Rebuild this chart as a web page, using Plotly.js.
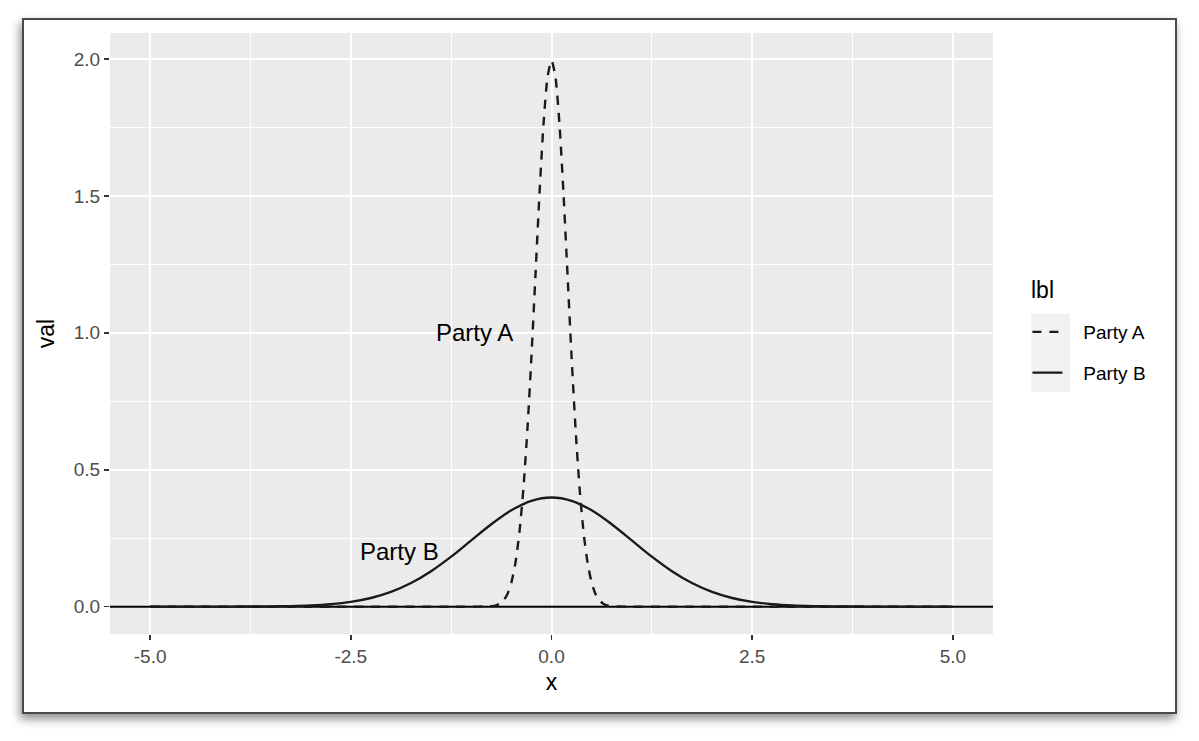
<!DOCTYPE html>
<html>
<head>
<meta charset="utf-8">
<script src="https://cdn.plot.ly/plotly-3.0.1.min.js"></script>
<style>
  body { margin: 0; background: #fff; width: 1199px; height: 741px; overflow: hidden; }
  #card {
    position: absolute; left: 22px; top: 18px; width: 1151px; height: 692px;
    border: 2px solid #4a4a4a; background: #fff;
    box-shadow: -2px 5px 9px rgba(0,0,0,0.45);
  }
  #chart { position: absolute; left: 0; top: 0; width: 1199px; height: 741px; }
</style>
</head>
<body>
<div id="card"></div>
<div id="chart"></div>
<script>
// Party B: wide curve
const partyB_x = [-5, -4.75, -4.5, -4.25, -4, -3.75, -3.5, -3.25, -3, -2.75, -2.5, -2.25, -2, -1.75, -1.5, -1.25, -1, -0.75, -0.5, -0.25,
  0, 0.25, 0.5, 0.75, 1, 1.25, 1.5, 1.75, 2, 2.25, 2.5, 2.75, 3, 3.25, 3.5, 3.75, 4, 4.25, 4.5, 4.75, 5];
const partyB_val = [0, 0, 0, 0, 0.0001, 0.0004, 0.0009, 0.002, 0.0044, 0.0091, 0.0175, 0.0317, 0.054, 0.0863, 0.1295, 0.1826, 0.242, 0.3011, 0.3521, 0.3867,
  0.3989, 0.3867, 0.3521, 0.3011, 0.242, 0.1826, 0.1295, 0.0863, 0.054, 0.0317, 0.0175, 0.0091, 0.0044, 0.002, 0.0009, 0.0004, 0.0001, 0, 0, 0, 0];

// Party A: narrow spike
const partyA_x = [-5, -1, -0.8, -0.75, -0.7, -0.65, -0.6, -0.55, -0.5, -0.45, -0.4, -0.35, -0.3, -0.25, -0.2, -0.15, -0.1, -0.05,
  0, 0.05, 0.1, 0.15, 0.2, 0.25, 0.3, 0.35, 0.4, 0.45, 0.5, 0.55, 0.6, 0.65, 0.7, 0.75, 0.8, 1, 5];
const partyA_val = [0, 0, 0.001, 0.002, 0.004, 0.01, 0.022, 0.045, 0.088, 0.159, 0.27, 0.431, 0.648, 0.913, 1.21, 1.506, 1.76, 1.933,
  1.995, 1.933, 1.76, 1.506, 1.21, 0.913, 0.648, 0.431, 0.27, 0.159, 0.088, 0.045, 0.022, 0.01, 0.004, 0.002, 0.001, 0, 0];

// horizontal reference line at 0, across the whole panel
const baseline = 0;
const xRange = [-5.5, 5.5];
const yRange = [-0.0998, 2.095];
const xTicks = [-5, -2.5, 0, 2.5, 5];
const xTickText = ['-5.0', '-2.5', '0.0', '2.5', '5.0'];
const yTicks = [0, 0.5, 1, 1.5, 2];
const yTickText = ['0.0', '0.5', '1.0', '1.5', '2.0'];

const FONT = '"Liberation Sans", Arial, sans-serif';
const pad = '\u00a0\u00a0\u00a0'; // push legend labels away from the keys

const traces = [
  {
    x: xRange, y: [baseline, baseline], showlegend: false, hoverinfo: 'skip',
    type: 'scatter', mode: 'lines', cliponaxis: true,
    line: {color: '#000', width: 2}
  },
  {
    x: partyA_x, y: partyA_val, name: pad + 'Party A', legendgroup: 'a',
    type: 'scatter', mode: 'lines',
    line: {color: '#1a1a1a', width: 2.4, dash: '9px,8px', shape: 'spline', smoothing: 0.6}
  },
  {
    x: partyB_x, y: partyB_val, name: pad + 'Party B', legendgroup: 'b',
    type: 'scatter', mode: 'lines',
    line: {color: '#1a1a1a', width: 2.4, shape: 'spline', smoothing: 1}
  }
];

const axisCommon = {
  showline: false, zeroline: false,
  gridcolor: '#ffffff', gridwidth: 2,
  ticks: 'outside', ticklen: 5, tickwidth: 1.6, tickcolor: '#333333',
  tickfont: {family: FONT, size: 19, color: '#4d4d4d'},
  tickmode: 'array',
  minor: {showgrid: true, gridcolor: '#ffffff', gridwidth: 1, ticks: ''}
};

const layout = {
  width: 1199, height: 741,
  margin: {l: 110, r: 206, t: 33, b: 107},
  paper_bgcolor: 'rgba(0,0,0,0)',
  plot_bgcolor: '#ebebeb',
  font: {family: FONT, color: '#000'},
  xaxis: Object.assign({}, axisCommon, {
    range: xRange, tickvals: xTicks, ticktext: xTickText,
    minor: Object.assign({}, axisCommon.minor, {tickvals: [-3.75, -1.25, 1.25, 3.75]}),
    title: {text: 'x', font: {family: FONT, size: 23, color: '#000'}, standoff: 8}
  }),
  yaxis: Object.assign({}, axisCommon, {
    range: yRange, tickvals: yTicks, ticktext: yTickText,
    minor: Object.assign({}, axisCommon.minor, {tickvals: [0.25, 0.75, 1.25, 1.75]}),
    title: {text: 'val', font: {family: FONT, size: 23, color: '#000'}, standoff: 12}
  }),
  showlegend: true,
  legend: {
    x: 1.039, y: 0.534, xanchor: 'left', yanchor: 'top',
    bgcolor: 'rgba(0,0,0,0)',
    font: {family: FONT, size: 19, color: '#000'},
    tracegroupgap: 13
  },
  shapes: [
    {type: 'rect', xref: 'paper', yref: 'paper', x0: 1.043, x1: 1.0872, y0: 0.4027, y1: 0.5324,
     fillcolor: '#f2f2f2', line: {width: 0}, layer: 'below'}
  ],
  annotations: [
    {x: 1.041, y: 0.573, xref: 'paper', yref: 'paper', text: 'lbl', showarrow: false,
     xanchor: 'left', yanchor: 'middle', font: {family: FONT, size: 23, color: '#000'}},
    {x: -0.45, y: 1.0, xref: 'x', yref: 'y', text: 'Party A', showarrow: false, xanchor: 'right',
     font: {family: FONT, size: 24, color: '#000'}},
    {x: -1.38, y: 0.2, xref: 'x', yref: 'y', text: 'Party B', showarrow: false, xanchor: 'right',
     font: {family: FONT, size: 24, color: '#000'}}
  ]
};

Plotly.newPlot('chart', traces, layout, {staticPlot: true, displayModeBar: false});
</script>
</body>
</html>
